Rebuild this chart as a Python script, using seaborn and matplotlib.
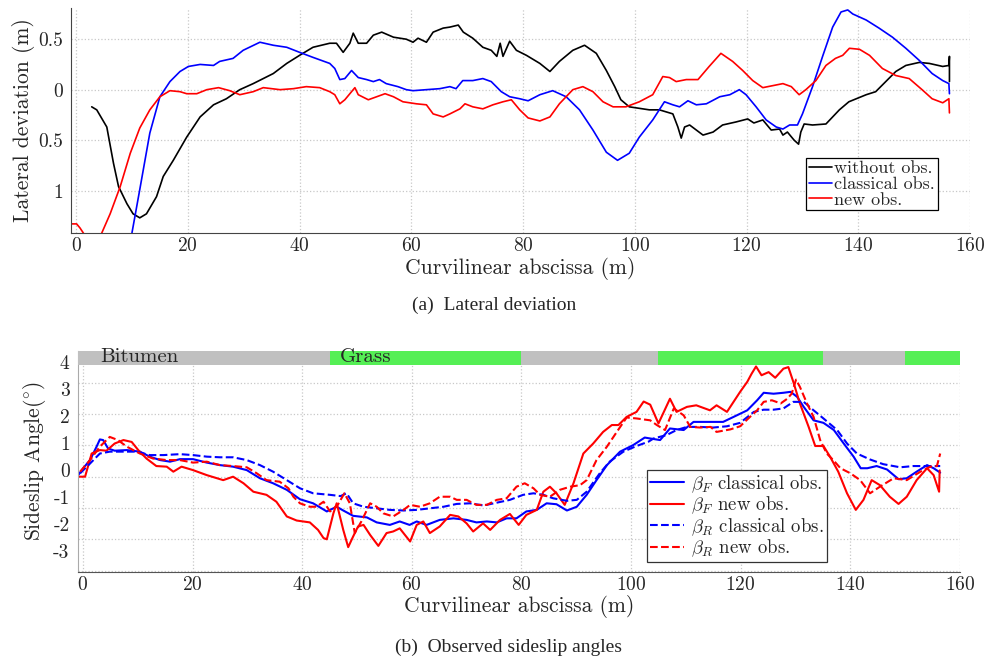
import numpy as np
import pandas as pd
import matplotlib
matplotlib.use("Agg")
import matplotlib.pyplot as plt
import seaborn as sns

# ---- (a) lateral deviation ----
lat_x_without = [2.8, 3.7, 5.5, 6.7, 7.6, 9.1, 10.2, 11.4, 12.6, 14.4, 15.6, 17.4, 19.8, 22.2, 24.6, 26.9,
                 29.3, 31.7, 35.3, 37.7, 40.0, 42.4, 45.4, 46.6, 47.8, 49.0, 49.6, 50.5, 52.0, 53.2, 54.7,
                 56.8, 59.1, 60.3, 61.2, 62.7, 63.9, 65.7, 66.9, 68.4, 69.3, 71.0, 72.8, 74.3, 75.3, 75.9,
                 76.4, 77.6, 78.8, 80.6, 83.0, 84.8, 86.5, 88.9, 91.0, 93.1, 94.9, 96.4, 97.5, 99.0, 102.6,
                 104.4, 106.8, 107.7, 108.3, 108.9, 109.8, 112.2, 114.0, 115.7, 118.1, 120.2, 121.3, 122.9,
                 124.4, 125.9, 126.5, 127.3, 128.5, 129.3, 129.7, 130.3, 131.8, 134.2, 136.6, 138.3, 141.4,
                 143.1, 144.9, 146.7, 148.5, 150.9, 152.7, 155.1, 156.2, 156.3, 156.3]
lat_y_without = [-0.17, -0.20, -0.37, -0.73, -0.96, -1.13, -1.23, -1.27, -1.23, -1.06, -0.86, -0.70, -0.47,
                 -0.27, -0.15, -0.09, 0.00, 0.06, 0.16, 0.26, 0.34, 0.42, 0.46, 0.46, 0.37, 0.46, 0.56, 0.46,
                 0.46, 0.54, 0.57, 0.52, 0.50, 0.47, 0.51, 0.47, 0.57, 0.61, 0.62, 0.64, 0.57, 0.51, 0.42,
                 0.39, 0.33, 0.46, 0.33, 0.48, 0.39, 0.34, 0.26, 0.18, 0.28, 0.39, 0.44, 0.36, 0.19, 0.03,
                 -0.10, -0.17, -0.20, -0.20, -0.24, -0.37, -0.48, -0.37, -0.35, -0.45, -0.42, -0.35, -0.32,
                 -0.29, -0.33, -0.30, -0.40, -0.39, -0.45, -0.42, -0.50, -0.54, -0.42, -0.34, -0.35, -0.34,
                 -0.20, -0.12, -0.05, -0.02, 0.08, 0.18, 0.24, 0.27, 0.26, 0.23, 0.24, 0.33, 0.08]

lat_x_classical = [10.0, 11.4, 13.2, 15.0, 16.8, 18.6, 20.1, 22.2, 24.6, 25.7, 28.1, 29.9, 32.9, 35.3, 37.7,
                   40.0, 42.4, 45.4, 46.3, 47.2, 48.1, 49.3, 50.5, 52.0, 53.2, 54.3, 55.5, 57.6, 59.1, 60.3,
                   62.7, 65.1, 66.9, 68.0, 69.2, 71.0, 72.8, 74.3, 76.1, 77.6, 79.4, 80.9, 83.0, 85.3, 87.7,
                   90.1, 92.5, 94.9, 96.9, 99.0, 100.8, 103.2, 105.3, 106.8, 108.0, 109.5, 111.0, 112.8,
                   115.2, 117.0, 118.7, 119.9, 121.7, 123.5, 125.3, 126.5, 127.7, 129.1, 130.0, 131.8, 133.6,
                   135.4, 136.9, 138.1, 139.0, 141.4, 143.7, 146.1, 148.5, 150.9, 153.2, 155.1, 156.2, 156.3]
lat_y_classical = [-1.42, -0.99, -0.43, -0.07, 0.08, 0.18, 0.23, 0.25, 0.24, 0.28, 0.31, 0.39, 0.47, 0.44,
                   0.42, 0.37, 0.32, 0.26, 0.21, 0.10, 0.11, 0.19, 0.12, 0.10, 0.08, 0.10, 0.06, 0.03, 0.00,
                   -0.01, 0.00, 0.01, 0.03, 0.01, 0.09, 0.09, 0.11, 0.08, -0.02, -0.07, -0.09, -0.11, -0.05,
                   -0.01, -0.07, -0.20, -0.40, -0.62, -0.70, -0.63, -0.47, -0.30, -0.12, -0.15, -0.17, -0.11,
                   -0.15, -0.14, -0.07, -0.05, 0.00, -0.05, -0.17, -0.30, -0.37, -0.39, -0.35, -0.35, -0.24,
                   0.03, 0.33, 0.62, 0.77, 0.79, 0.75, 0.69, 0.61, 0.52, 0.41, 0.29, 0.16, 0.09, 0.06, -0.04]

lat_x_new = [-0.9, 0.1, 0.7, 1.3, 3.0, 4.6, 6.1, 7.9, 9.7, 11.4, 13.2, 15.0, 16.8, 18.6, 19.8, 21.6, 23.4,
             25.5, 27.5, 29.3, 31.7, 33.5, 36.5, 38.9, 41.2, 43.6, 45.4, 46.3, 47.2, 48.1, 49.3, 49.9, 50.5,
             52.3, 53.8, 55.3, 56.8, 58.5, 60.9, 62.7, 63.9, 65.7, 66.9, 68.7, 69.6, 71.0, 72.8, 74.6, 76.4,
             77.9, 79.4, 80.9, 83.0, 84.8, 86.5, 88.9, 90.7, 92.5, 94.3, 96.1, 98.4, 100.8, 103.2, 105.0,
             106.2, 107.4, 109.2, 111.3, 113.3, 115.4, 117.5, 119.3, 121.1, 122.9, 124.7, 126.5, 128.0,
             129.4, 130.6, 132.4, 134.2, 135.9, 137.2, 138.4, 140.2, 142.0, 144.3, 146.7, 149.1, 151.4,
             153.2, 155.1, 156.2, 156.3]
lat_y_new = [-1.33, -1.33, -1.37, -1.42, -1.60, -1.42, -1.23, -0.96, -0.63, -0.38, -0.20, -0.07, -0.01,
             -0.02, -0.04, -0.04, 0.00, 0.02, -0.01, -0.05, -0.02, 0.02, 0.00, 0.01, 0.03, 0.02, -0.02,
             -0.05, -0.14, -0.10, -0.02, 0.02, -0.05, -0.10, -0.07, -0.04, -0.07, -0.12, -0.14, -0.15,
             -0.24, -0.27, -0.24, -0.19, -0.14, -0.17, -0.19, -0.15, -0.12, -0.10, -0.20, -0.28, -0.31,
             -0.27, -0.14, 0.00, 0.03, -0.02, -0.12, -0.17, -0.17, -0.12, -0.05, 0.13, 0.12, 0.08, 0.10,
             0.10, 0.23, 0.36, 0.28, 0.19, 0.09, 0.02, 0.04, 0.06, 0.03, -0.05, 0.00, 0.09, 0.24, 0.31,
             0.34, 0.41, 0.40, 0.34, 0.21, 0.14, 0.11, 0.00, -0.09, -0.13, -0.09, -0.23]

lat_yticks = [0.5, 0, -0.5, -1]
lat_yticklabels = ["0.5", "0", "0.5", "1"]
lat_legend = ["without obs.", "classical obs.", "new obs."]

# ---- (b) sideslip angles ----
bf_x_classical = [-0.85, 0.06, 1.3, 2.5, 3.1, 3.7, 4.6, 5.8, 8.0, 10.4, 12.2, 14.1, 15.9, 17.7, 20.1, 22.6,
                  25.0, 27.4, 29.9, 32.3, 34.7, 37.2, 39.6, 42.0, 44.5, 46.3, 47.5, 49.3, 51.8, 53.6, 56.0,
                  57.8, 59.6, 60.9, 62.7, 65.1, 67.6, 70.0, 71.8, 73.7, 75.5, 77.3, 79.1, 80.9, 82.8, 84.6,
                  86.4, 88.3, 90.1, 91.9, 93.7, 95.6, 98.0, 100.4, 102.5, 103.5, 105.3, 107.1, 109.6, 111.4,
                  113.8, 116.8, 119.3, 121.2, 123.0, 124.2, 126.0, 127.8, 129.1, 130.3, 131.5, 133.3, 135.1,
                  137.0, 138.8, 140.6, 141.9, 143.1, 144.8, 146.7, 148.8, 150.3, 152.1, 154.0, 155.2, 156.4]
bf_y_classical = [0.05, 0.27, 0.53, 0.96, 1.19, 1.17, 0.90, 0.83, 0.85, 0.80, 0.64, 0.53, 0.48, 0.56, 0.56,
                  0.45, 0.37, 0.32, 0.21, -0.05, -0.21, -0.42, -0.72, -0.85, -1.11, -0.96, -1.08, -1.25,
                  -1.30, -1.46, -1.54, -1.43, -1.54, -1.43, -1.54, -1.38, -1.33, -1.38, -1.46, -1.43, -1.46,
                  -1.33, -1.33, -1.11, -1.06, -0.85, -0.88, -1.08, -0.96, -0.58, -0.11, 0.37, 0.80, 1.01,
                  1.25, 1.22, 1.17, 1.54, 1.49, 1.75, 1.75, 1.75, 1.96, 2.12, 2.44, 2.68, 2.65, 2.68, 2.71,
                  2.55, 2.23, 1.80, 1.72, 1.49, 1.06, 0.64, 0.27, 0.27, 0.34, 0.23, -0.08, -0.05, 0.16,
                  0.37, 0.27, 0.13]

bf_x_new = [-0.85, 0.4, 1.6, 3.1, 4.3, 5.8, 7.4, 8.9, 10.1, 11.6, 13.4, 15.3, 16.5, 18.0, 20.1, 22.6, 25.6,
            27.4, 29.3, 31.1, 33.5, 35.3, 37.2, 39.0, 41.4, 42.9, 43.9, 44.5, 45.7, 46.3, 47.5, 48.4, 49.3,
            50.2, 51.2, 52.4, 53.9, 55.4, 56.6, 57.8, 59.7, 60.9, 62.1, 63.3, 65.1, 67.0, 68.5, 70.0, 71.2,
            73.0, 74.3, 76.1, 77.9, 79.5, 80.9, 82.8, 84.0, 85.2, 86.4, 87.9, 89.5, 91.3, 93.1, 94.9, 96.5,
            97.7, 99.2, 101.0, 102.3, 103.5, 105.0, 107.1, 108.3, 110.2, 111.9, 114.4, 115.6, 117.5, 118.7,
            119.9, 121.2, 122.0, 122.8, 123.8, 125.1, 126.3, 127.8, 128.7, 129.6, 130.8, 132.4, 133.6,
            135.1, 136.3, 137.8, 139.4, 141.0, 142.4, 143.9, 145.4, 147.2, 148.8, 150.3, 152.1, 154.0,
            155.2, 156.2, 156.3]
bf_y_new = [0.0, 0.0, 0.74, 0.85, 0.83, 1.06, 1.17, 1.11, 0.85, 0.58, 0.34, 0.32, 0.16, 0.32, 0.21, 0.05,
            -0.11, 0.0, -0.21, -0.48, -0.58, -0.80, -1.27, -1.40, -1.46, -1.70, -1.96, -2.0, -1.17, -0.85,
            -1.70, -2.25, -1.91, -1.59, -1.54, -1.86, -2.21, -1.80, -1.75, -1.65, -2.07, -1.54, -1.43,
            -1.80, -1.59, -1.22, -1.27, -1.49, -1.75, -1.49, -1.70, -1.38, -1.19, -1.54, -1.22, -1.06,
            -0.48, -0.32, -0.53, -0.90, -0.21, 0.74, 1.06, 1.43, 1.65, 1.65, 1.91, 2.07, 2.40, 2.30, 1.70,
            2.49, 2.07, 2.23, 2.28, 2.12, 2.28, 2.07, 2.39, 2.71, 3.03, 3.29, 3.52, 3.24, 3.34, 3.16,
            3.45, 3.50, 3.03, 2.34, 1.59, 0.98, 0.98, 0.64, 0.16, -0.53, -1.06, -0.74, -0.11, -0.27,
            -0.64, -0.87, -0.64, -0.11, 0.27, 0.05, -0.48, 0.20]

br_x_classical = [-0.5, 1.3, 3.1, 4.9, 7.4, 9.8, 12.2, 14.7, 17.7, 20.1, 22.6, 25.0, 27.4, 29.9, 32.3, 34.7,
                  37.2, 39.6, 42.0, 45.1, 47.0, 48.1, 49.3, 51.2, 53.6, 56.0, 58.5, 60.9, 63.3, 65.8, 68.2,
                  70.6, 73.1, 75.5, 77.9, 80.3, 82.2, 84.0, 85.8, 88.3, 90.1, 91.9, 94.3, 96.1, 98.6, 101.0,
                  103.2, 104.1, 106.5, 108.3, 110.2, 112.6, 115.0, 117.5, 119.9, 122.4, 124.2, 126.0, 127.8,
                  129.6, 131.5, 133.3, 135.1, 137.6, 139.4, 141.2, 143.6, 146.0, 149.1, 151.5, 154.0, 156.4]
br_y_classical = [0.11, 0.42, 0.74, 0.80, 0.80, 0.80, 0.69, 0.69, 0.72, 0.69, 0.64, 0.62, 0.62, 0.53, 0.37,
                  0.16, -0.11, -0.37, -0.53, -0.58, -0.62, -0.53, -0.85, -0.96, -1.01, -1.06, -1.08, -1.06,
                  -1.01, -0.96, -0.87, -0.85, -0.92, -0.83, -0.74, -0.58, -0.53, -0.58, -0.69, -0.77, -0.74,
                  -0.48, 0.11, 0.48, 0.80, 0.98, 1.12, 1.22, 1.33, 1.49, 1.59, 1.59, 1.57, 1.61, 1.72, 2.07,
                  2.14, 2.14, 2.18, 2.39, 2.39, 2.12, 1.86, 1.49, 1.06, 0.74, 0.55, 0.40, 0.30, 0.34, 0.34,
                  0.34]

br_x_new = [-0.5, 1.3, 3.1, 4.9, 6.4, 8.0, 10.4, 12.8, 15.3, 17.7, 20.1, 22.6, 25.0, 27.4, 29.9, 31.7, 33.5,
            35.9, 37.5, 38.4, 39.6, 41.4, 42.6, 43.9, 45.1, 46.5, 47.7, 48.7, 49.6, 50.8, 52.4, 53.6, 54.8,
            56.6, 58.5, 59.7, 61.5, 63.3, 65.1, 67.0, 68.2, 70.0, 71.8, 73.7, 75.5, 77.3, 79.1, 80.6, 82.2,
            83.4, 85.2, 87.0, 88.9, 90.7, 91.9, 93.7, 95.6, 97.4, 99.2, 101.0, 103.5, 104.7, 106.2, 107.8,
            109.6, 110.8, 112.6, 114.5, 115.6, 118.1, 119.9, 121.7, 123.0, 124.2, 125.7, 127.3, 128.5,
            129.3, 130.1, 130.8, 132.1, 133.3, 134.5, 135.7, 136.9, 138.2, 140.0, 141.8, 143.6, 145.4,
            147.9, 150.3, 152.8, 154.6, 155.8, 156.4]
br_y_new = [0.16, 0.53, 0.96, 1.27, 1.17, 0.96, 0.74, 0.58, 0.53, 0.53, 0.45, 0.48, 0.37, 0.34, 0.30, 0.11,
            -0.11, -0.16, -0.37, -0.64, -0.85, -0.96, -0.96, -0.80, -1.11, -0.90, -0.53, -0.85, -1.80,
            -1.43, -0.85, -0.96, -1.17, -1.27, -1.06, -0.90, -0.96, -0.85, -0.64, -0.64, -0.74, -0.74,
            -0.90, -0.90, -0.74, -0.69, -0.32, -0.21, -0.37, -0.58, -0.64, -0.42, -0.32, -0.27, -0.11,
            0.53, 0.96, 1.43, 1.89, 1.86, 1.80, 1.65, 1.49, 2.18, 1.96, 1.59, 1.57, 1.59, 1.43, 1.51,
            1.61, 1.91, 2.12, 2.39, 2.44, 2.34, 2.49, 2.65, 3.10, 2.87, 2.34, 1.91, 1.17, 0.74, 0.53,
            0.27, 0.11, -0.11, -0.53, -0.32, -0.05, -0.11, 0.16, 0.32, 0.34, 0.74]

slip_legend = [r"$\beta_F$ classical obs.", r"$\beta_F$ new obs.",
               r"$\beta_R$ classical obs.", r"$\beta_R$ new obs."]
slip_ytick_labels = ["4", "3", "2", "1", "0", "-1", "-2", "-3"]

surface_start = [-0.9, 45, 80, 105, 135, 150]
surface_end = [45, 80, 105, 135, 150, 160]
surface_type = ["Bitumen", "Grass", "Bitumen", "Grass", "Bitumen", "Grass"]
surface_label = ["Bitumen", "Grass", "", "", "", ""]
surface_label_x = [3.1, 46.9, None, None, None, None]

# style
sns.set_style("white")
plt.rcParams["font.family"] = ["cmr10", "DejaVu Serif"]
plt.rcParams["mathtext.fontset"] = "cm"
plt.rcParams["axes.unicode_minus"] = False
plt.rcParams["axes.formatter.use_mathtext"] = True

fig = plt.figure(figsize=(9.88, 6.6), dpi=100)
ax1 = fig.add_axes([0.0719, 0.647, 0.910, 0.341])
ax2 = fig.add_axes([0.0789, 0.134, 0.8927, 0.3335])

grid_kw = dict(color="#c8c8c8", linestyle=":", linewidth=0.9)

# ---- top panel ----
sns.lineplot(x=lat_x_without, y=lat_y_without, ax=ax1, color="black", lw=1.2,
             sort=False, estimator=None, label=lat_legend[0])
sns.lineplot(x=lat_x_classical, y=lat_y_classical, ax=ax1, color="blue", lw=1.2,
             sort=False, estimator=None, label=lat_legend[1])
sns.lineplot(x=lat_x_new, y=lat_y_new, ax=ax1, color="red", lw=1.2,
             sort=False, estimator=None, label=lat_legend[2])
ax1.set_xlim(-0.9, 160)
ax1.set_ylim(-1.42, 0.81)
ax1.set_xticks(range(0, 161, 20))
ax1.set_yticks(lat_yticks)
ax1.set_yticklabels(lat_yticklabels)
ax1.grid(True, **grid_kw)
ax1.set_xlabel("Curvilinear abscissa (m)", fontsize=15.5, labelpad=1)
ax1.set_ylabel("Lateral deviation (m)", fontsize=15.5, labelpad=2)
ax1.tick_params(axis="x", direction="in", length=6, width=0.8, color="#444444", labelsize=14, pad=3)
ax1.tick_params(axis="y", length=0, labelsize=14, pad=6)
for s in ["top", "right"]:
    ax1.spines[s].set_visible(False)
for s in ["left", "bottom"]:
    ax1.spines[s].set_color("#444444")
    ax1.spines[s].set_linewidth(0.8)
leg1 = ax1.legend(loc="lower right", bbox_to_anchor=(0.964, 0.10), fontsize=13,
                  handlelength=1.3, handletextpad=0.1, labelspacing=0.0, borderpad=0.15,
                  borderaxespad=0, fancybox=False, edgecolor="black", framealpha=1)
leg1.get_frame().set_linewidth(0.9)

# ---- bottom panel ----
sns.lineplot(x=bf_x_classical, y=bf_y_classical, ax=ax2, color="blue", lw=1.5,
             sort=False, estimator=None, label=slip_legend[0])
sns.lineplot(x=bf_x_new, y=bf_y_new, ax=ax2, color="red", lw=1.5,
             sort=False, estimator=None, label=slip_legend[1])
sns.lineplot(x=br_x_classical, y=br_y_classical, ax=ax2, color="blue", lw=1.5,
             sort=False, estimator=None, label=slip_legend[2], linestyle="--")
sns.lineplot(x=br_x_new, y=br_y_new, ax=ax2, color="red", lw=1.5,
             sort=False, estimator=None, label=slip_legend[3], linestyle="--")

surface_colors = {"Bitumen": "#c0c0c0", "Grass": "#55ef55"}
for x0, x1, kind, lab, lx in zip(surface_start, surface_end, surface_type, surface_label, surface_label_x):
    ax2.barh(3.78, x1 - x0, left=x0, height=0.44, color=surface_colors[kind], zorder=3,
             edgecolor="none")
    if lab:
        ax2.text(lx, 3.82, lab, fontsize=15, va="center", ha="left", zorder=4)

ax2.set_xlim(-0.9, 160)
ax2.set_ylim(-3.03, 4.0)
ax2.set_xticks(range(0, 161, 20))
ax2.set_yticks(range(-3, 5))
ax2.set_yticklabels([""] * 8)
ax2.set_yticks([0.21 + 0.864 * k for k in range(4, -4, -1)], minor=True)
ax2.set_yticklabels(slip_ytick_labels, minor=True)
ax2.grid(True, which="major", **grid_kw)
ax2.set_xlabel("Curvilinear abscissa (m)", fontsize=15.5, labelpad=1)
ax2.set_ylabel(r"Sideslip Angle($^{\circ}$)", fontsize=15.5, labelpad=4)
ax2.tick_params(axis="x", direction="in", length=6, width=0.8, color="#555555", labelsize=14, pad=3)
ax2.tick_params(axis="y", which="both", length=0, labelsize=14, pad=6)
for s in ["top", "right"]:
    ax2.spines[s].set_visible(False)
ax2.spines["left"].set_color("#aaaaaa")
ax2.spines["bottom"].set_color("#555555")
leg2 = ax2.legend(loc="lower right", bbox_to_anchor=(0.849, 0.044), fontsize=13.5,
                  handlelength=1.8, handletextpad=0.4, labelspacing=0.0, borderpad=0.15,
                  borderaxespad=0, fancybox=False, edgecolor="#333333", framealpha=1)
leg2.get_frame().set_linewidth(0.9)
leg2.set_zorder(5)

# captions
fig.text(0.5, 1 - 305 / 660, "(a)  Lateral deviation", family="Liberation Serif",
         fontsize=14, ha="center", va="center")
fig.text(0.515, 1 - 647 / 660, "(b)  Observed sideslip angles", family="Liberation Serif",
         fontsize=14, ha="center", va="center")

fig.savefig("out.png", dpi=100)
